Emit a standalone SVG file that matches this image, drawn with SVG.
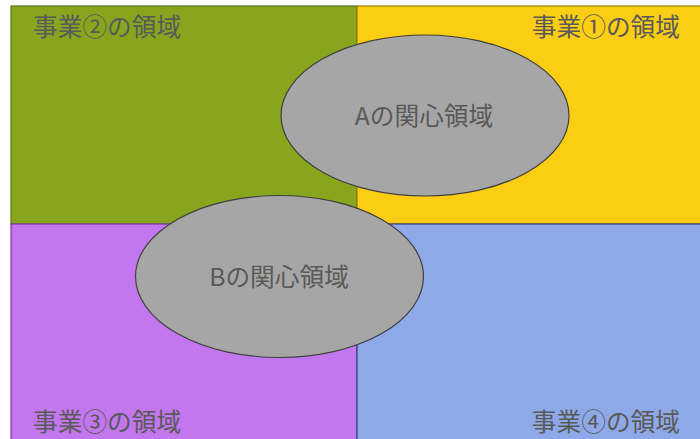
<svg xmlns="http://www.w3.org/2000/svg" width="700" height="439" viewBox="0 0 700 439">
<style>
.lbl{font-family:"Noto Sans CJK JP","Noto Sans",sans-serif;font-size:24.7px;fill:#595959}
.ell{fill:#A6A6A6;stroke:#404040;stroke-width:1.2}
</style>
<rect width="700" height="439" fill="#ffffff"/>
<g id="q2"><rect x="11" y="6" width="346" height="218" fill="#87A61E" stroke="#5E7410" stroke-width="1.2"/><text class="lbl" x="33" y="36">事業②の領域</text></g>
<g id="q1"><rect x="357" y="6" width="345" height="218" fill="#FCCE13" stroke="#9C7E08" stroke-width="1.2"/><text class="lbl" x="680" y="36" text-anchor="end">事業①の領域</text></g>
<g id="q3"><rect x="11" y="224" width="346" height="217" fill="#C377EE" stroke="#7A3AA8" stroke-width="1.2"/><text class="lbl" x="33" y="431">事業③の領域</text></g>
<g id="q4"><rect x="357" y="224" width="345" height="217" fill="#8EA9E8" stroke="#2E3F7A" stroke-width="1.2"/><text class="lbl" x="680" y="431" text-anchor="end">事業④の領域</text></g>
<g id="A"><ellipse class="ell" cx="425" cy="115.5" rx="144" ry="80.5"/><text class="lbl" x="424" y="125" text-anchor="middle">Aの関心領域</text></g>
<g id="B"><ellipse class="ell" cx="279.5" cy="276.5" rx="144" ry="81"/><text class="lbl" x="279" y="286" text-anchor="middle">Bの関心領域</text></g>
<g id="connectors"></g>
</svg>
